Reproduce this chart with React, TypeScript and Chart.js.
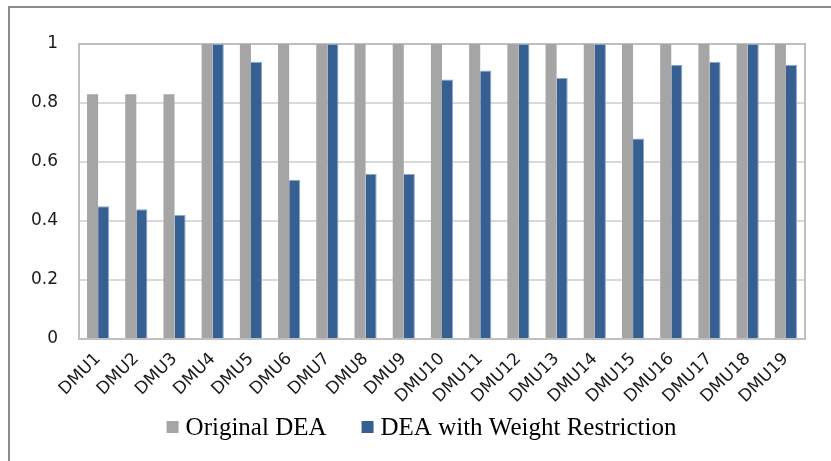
import { useEffect, useRef } from "react";
import { Chart, registerables } from "chart.js";

Chart.register(...registerables);

// Efficiency scores per decision-making unit
const categories = [
  "DMU1", "DMU2", "DMU3", "DMU4", "DMU5", "DMU6", "DMU7", "DMU8", "DMU9", "DMU10",
  "DMU11", "DMU12", "DMU13", "DMU14", "DMU15", "DMU16", "DMU17", "DMU18", "DMU19",
];
const originalDEA = [0.83, 0.83, 0.83, 1, 1, 1, 1, 1, 1, 1, 1, 1, 1, 1, 1, 1, 1, 1, 1];
const weightRestrictedDEA = [
  0.45, 0.44, 0.42, 1, 0.94, 0.54, 1, 0.56, 0.56, 0.88,
  0.91, 1, 0.885, 1, 0.68, 0.93, 0.94, 1, 0.93,
];
const seriesNames = ["Original DEA", "DEA with Weight Restriction"];
const yMin = 0;
const yMax = 1;
const yStep = 0.2;

const GRAY = "#a5a5a5";
const BLUE = "#376092";
const TICK_FONT = "'DejaVu Sans', Verdana, sans-serif";
const LEGEND_FONT = "'Liberation Serif', 'Times New Roman', serif";

// Outer frame of the figure
const FRAME_LEFT = 8;
const FRAME_TOP = 6;
const FRAME_WIDTH = 827;

// Plot-area outline, drawn under the bars
const plotBorder = {
  id: "plotBorder",
  beforeDatasetsDraw(chart: any) {
    const { ctx, chartArea } = chart;
    ctx.save();
    ctx.strokeStyle = "#bfbfbf";
    ctx.lineWidth = 2;
    ctx.strokeRect(chartArea.left, chartArea.top, chartArea.right - chartArea.left, chartArea.bottom - chartArea.top);
    ctx.restore();
  },
};

// Legend row under the axis labels, centred in the frame
const bottomLegend = {
  id: "bottomLegend",
  afterDraw(chart: any) {
    const { ctx, chartArea } = chart;
    ctx.save();
    ctx.font = `25px ${LEGEND_FONT}`;
    const box = 12;
    const gap = 7;
    const itemGap = 35;
    const items = chart.data.datasets.map((ds: any) => ({
      label: ds.label as string,
      color: ds.backgroundColor as string,
      w: ctx.measureText(ds.label).width,
    }));
    const total =
      items.reduce((s: number, it: any) => s + box + gap + it.w, 0) + itemGap * (items.length - 1);
    let x = FRAME_LEFT + FRAME_WIDTH / 2 - total / 2;
    const baseline = chartArea.bottom + 96;
    ctx.textBaseline = "alphabetic";
    ctx.textAlign = "left";
    for (const it of items) {
      ctx.fillStyle = it.color;
      ctx.fillRect(x, baseline - 14, box, box);
      x += box + gap;
      ctx.fillStyle = "#000";
      ctx.fillText(it.label, x, baseline);
      x += it.w + itemGap;
    }
    ctx.restore();
  },
};

export default function App() {
  const canvasRef = useRef<HTMLCanvasElement | null>(null);

  useEffect(() => {
    document.body.style.margin = "0";
    const canvas = canvasRef.current;
    if (!canvas) return;
    const chart = new Chart(canvas, {
      type: "bar",
      data: {
        labels: categories,
        datasets: [
          {
            label: seriesNames[0],
            data: originalDEA,
            backgroundColor: GRAY,
            borderWidth: 0,
            barPercentage: 1,
            categoryPercentage: 0.58,
          },
          {
            label: seriesNames[1],
            data: weightRestrictedDEA,
            backgroundColor: BLUE,
            borderColor: "#8ea7c8",
            borderWidth: { left: 0, right: 1, top: 1, bottom: 0 },
            barPercentage: 1,
            categoryPercentage: 0.58,
          },
        ],
      },
      options: {
        responsive: false,
        animation: false,
        devicePixelRatio: 1,
        layout: { padding: { left: 0, top: 44, right: 26, bottom: 0 } },
        plugins: {
          legend: { display: false },
          tooltip: { enabled: false },
          title: { display: false },
        },
        scales: {
          x: {
            grid: { display: false, drawTicks: false },
            border: { display: true, color: "#bfbfbf", width: 2 },
            ticks: {
              color: "#1a1a1a",
              font: { family: TICK_FONT, size: 17 },
              minRotation: 45,
              maxRotation: 45,
              padding: 10,
              autoSkip: false,
            },
            afterFit(scale: any) {
              scale.height = 122;
            },
          },
          y: {
            min: yMin,
            max: yMax,
            grid: { color: "#d9d9d9", lineWidth: 2, drawTicks: false },
            border: { display: true, color: "#bfbfbf", width: 2 },
            ticks: {
              stepSize: yStep,
              color: "#1a1a1a",
              font: { family: TICK_FONT, size: 17 },
              padding: 21,
              callback: (v: any) => String(Math.round(Number(v) * 10) / 10),
            },
            afterFit(scale: any) {
              scale.width = 79;
            },
          },
        },
      },
      plugins: [plotBorder, bottomLegend],
    });
    return () => chart.destroy();
  }, []);

  return (
    <div style={{ position: "relative", width: 831, height: 461, overflow: "hidden", background: "#fff" }}>
      <div
        style={{
          position: "absolute",
          left: FRAME_LEFT,
          top: FRAME_TOP,
          width: 900,
          height: 600,
          border: "2px solid #8c8c8c",
          boxSizing: "border-box",
        }}
      />
      <canvas
        ref={canvasRef}
        width={831}
        height={461}
        style={{ position: "absolute", left: 0, top: 0, width: 831, height: 461, display: "block" }}
      />
    </div>
  );
}
